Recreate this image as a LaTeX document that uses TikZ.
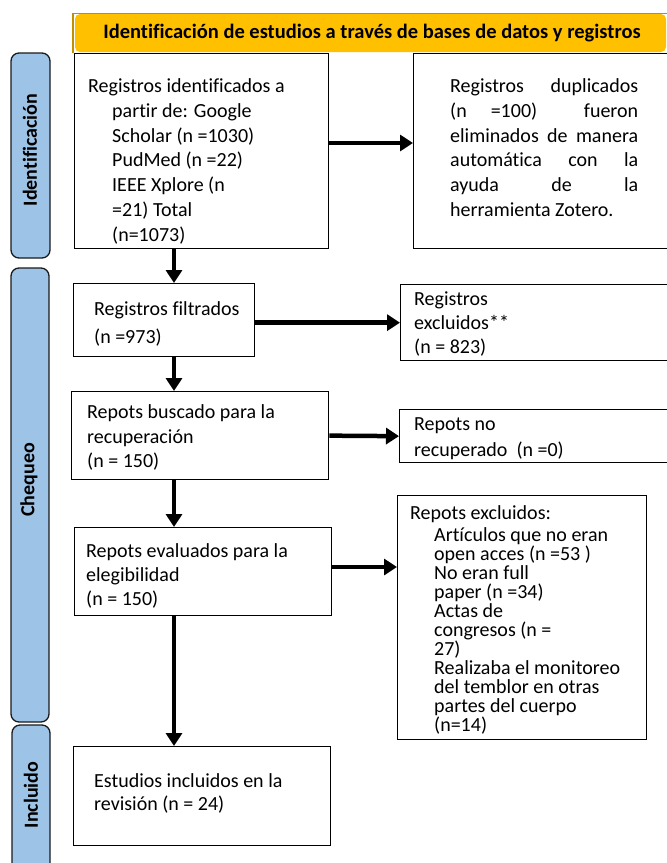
\documentclass[tikz,border=0pt]{standalone}
\usepackage{fontspec}
\setmainfont{Carlito}[Ligatures=NoCommon]
\usetikzlibrary{arrows.meta}
\definecolor{hdrfill}{HTML}{FFC000}
\definecolor{hdrline}{HTML}{BF9000}
\definecolor{sidefill}{HTML}{9DC3E6}
\definecolor{sideline}{HTML}{1A1A1A}
\tikzset{
  box/.style={draw=black, line width=1.3pt, fill=white, rectangle, inner sep=0pt, anchor=north west},
  arr/.style={line width=4.5pt, -{Triangle[length=13pt,width=16pt]}},
  txt/.style={anchor=base west, inner sep=0pt, font=\fontsize{20}{24}\selectfont},
  side/.style={draw=sideline, line width=1.3pt, fill=sidefill, rounded corners=8pt},
  sidetxt/.style={rotate=90, font=\fontsize{20}{24}\selectfont\bfseries, inner sep=0pt},
}
\begin{document}
\begin{tikzpicture}[x=1pt,y=-1pt]
\useasboundingbox (0,0) rectangle (667,863);
% side bars
\draw[side] (11,53) rectangle (50,258);
\draw[side] (11,268) rectangle (49,722);
\draw[side] (12,725) rectangle (50,880);
\node[sidetxt] (sl1) at (30,150) {Identificación};
\node[sidetxt] (sl2) at (29,480) {Chequeo};
\node[sidetxt] (sl3) at (31,795) {Incluido};
% boxes
\node[box, minimum width=254pt, minimum height=195pt] (b1) at (74,53) {};
\node[box, minimum width=262pt, minimum height=195pt] (b2) at (413,53) {};
\node[box, minimum width=181pt, minimum height=73pt] (b3) at (73,283) {};
\node[box, minimum width=272pt, minimum height=76pt] (b4) at (400,284) {};
\node[box, minimum width=257pt, minimum height=88pt] (b5) at (71,391) {};
\node[box, minimum width=272pt, minimum height=53pt] (b6) at (399,409) {};
\node[box, minimum width=257pt, minimum height=88pt] (b7) at (74,527) {};
\node[box, minimum width=249pt, minimum height=244pt] (b8) at (397,495) {};
\node[box, minimum width=257pt, minimum height=99pt] (b9) at (73,746) {};
% header
\fill[hdrfill, rounded corners=5pt] (75,14) rectangle (666,52);
\draw[hdrline, line width=1.5pt] (73,53) -- (73,13.5) -- (667,13.5);
\node[inner sep=0pt, font=\fontsize{20.5}{24}\selectfont\bfseries] (hdr) at (372,33) {Identificación de estudios a través de bases de datos y registros};
% box 1 text
\node[txt] (t1-1) at (88,92.5) {Registros identificados a};
\foreach \t [count=\i from 2] in {{partir de: Google},{Scholar (n =1030)},{PudMed (n =22)},{IEEE Xplore (n},{=21) Total},{(n=1073)}}
  \node[txt] (t1-\i) at (112,{92.5+24.8*(\i-1)}) {\t};
% box 2 text
\node[txt] (t2-1) at (450,92.5) {\makebox[188pt][s]{Registros\hfill duplicados}};
\node[txt] (t2-2) at (450,117.3) {\makebox[188pt][s]{(n\hspace{24pt}=100)\hfill fueron}};
\node[txt] (t2-3) at (450,142.1) {\makebox[188pt][s]{eliminados de manera}};
\node[txt] (t2-4) at (450,166.9) {\makebox[188pt][s]{automática\hfill con\hfill la}};
\node[txt] (t2-5) at (450,191.7) {\makebox[188pt][s]{ayuda\hfill de\hfill la}};
\node[txt] (t2-6) at (450,216.5) {herramienta Zotero.};
% box 3 text
\node[txt] (t3-1) at (94,315) {Registros filtrados};
\node[txt] (t3-2) at (94,343) {(n =973)};
% box 4 text
\node[txt] (t4-1) at (414,305) {Registros};
\node[txt] (t4-2) at (414,329) {excluidos**};
\node[txt] (t4-3) at (414,353) {(n = 823)};
% box 5 text
\node[txt] (t5-1) at (87,418) {Repots buscado para la};
\node[txt] (t5-2) at (87,443) {recuperación};
\node[txt] (t5-3) at (87,467) {(n = 150)};
% box 6 text
\node[txt] (t6-1) at (414,430) {Repots no};
\node[txt] (t6-2) at (414,456) {recuperado\ \ (n =0)};
% box 7 text
\node[txt] (t7-1) at (86,557) {Repots evaluados para la};
\node[txt] (t7-2) at (86,581) {elegibilidad};
\node[txt] (t7-3) at (86,605) {(n = 150)};
% box 8 text
\node[txt] (t8-1) at (410,519) {Repots excluidos:};
\foreach \t [count=\i from 2] in {{Artículos que no eran},{open acces (n =53 )},{No eran full},{paper (n =34)},{Actas de},{congresos (n =},{27)},{Realizaba el monitoreo},{del temblor en otras},{partes del cuerpo},{(n=14)}}
  \node[txt] (t8-\i) at (434,{541+19*(\i-2)}) {\t};
% box 9 text
\node[txt] (t9-1) at (94,787) {Estudios incluidos en la};
\node[txt] (t9-2) at (94,810) {revisión (n = 24)};
% arrows
\coordinate (y1) at (0,143);
\coordinate (y7) at (0,567);
\coordinate (xv) at (174,0);
\draw[arr] (b1.east |- y1) -- (b2.west |- y1);
\draw[arr] (b3.east |- b4.west) -- (b4.west);
\draw[arr] (b5.east) -- (b6.west);
\draw[arr] (b7.east |- y7) -- (b8.west |- y7);
\draw[arr] (b1.south -| xv) -- (b3.north -| xv);
\draw[arr] (b3.south -| xv) -- (b5.north -| xv);
\draw[arr] (b5.south -| xv) -- (b7.north -| xv);
\draw[arr] (b7.south -| xv) -- (b9.north -| xv);
\end{tikzpicture}
\end{document}
